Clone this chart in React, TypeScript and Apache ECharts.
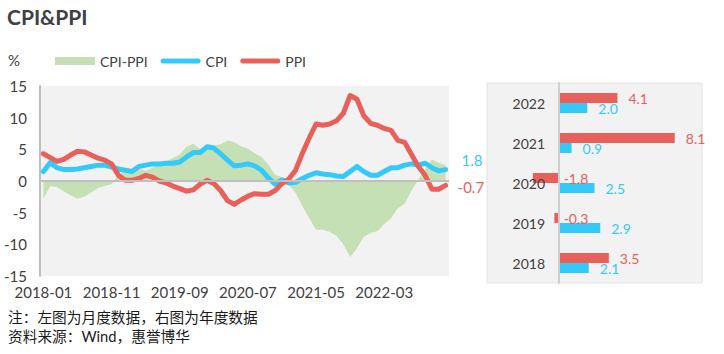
import React, { useEffect, useRef } from 'react';
import * as echarts from 'echarts';

const months: string[] = [];
for (let y = 2018; y <= 2022; y++) {
  for (let m = 1; m <= 12; m++) months.push(`${y}-${String(m).padStart(2, '0')}`);
}

const cpi = [
  1.5, 2.9, 2.1, 1.8, 1.8, 1.9, 2.1, 2.3, 2.5, 2.5, 2.2, 1.9,
  1.7, 1.5, 2.3, 2.5, 2.7, 2.7, 2.8, 2.8, 3.0, 3.8, 4.5, 4.5,
  5.4, 5.2, 4.3, 3.3, 2.4, 2.5, 2.7, 2.4, 1.7, 0.5, -0.5, 0.2,
  -0.3, -0.2, 0.4, 0.9, 1.3, 1.1, 1.0, 0.8, 0.7, 1.5, 2.3, 1.5,
  0.9, 0.9, 1.5, 2.1, 2.1, 2.5, 2.7, 2.5, 2.8, 2.1, 1.6, 1.8,
];

const ppi = [
  4.3, 3.7, 3.1, 3.4, 4.1, 4.7, 4.6, 4.1, 3.6, 3.3, 2.7, 0.9,
  0.1, 0.1, 0.4, 0.9, 0.6, 0.0, -0.3, -0.8, -1.2, -1.6, -1.4, -0.5,
  0.1, -0.4, -1.5, -3.1, -3.7, -3.0, -2.4, -2.0, -2.1, -2.1, -1.5, -0.4,
  0.3, 1.7, 4.4, 6.8, 9.0, 8.8, 9.0, 9.5, 10.7, 13.5, 12.9, 10.3,
  9.1, 8.8, 8.3, 8.0, 6.4, 6.1, 4.2, 2.3, 0.9, -1.3, -1.3, -0.7,
];

const cpiPpi = [
  -2.8, -0.8, -1.0, -1.6, -2.3, -2.8, -2.5, -1.8, -1.1, -0.8, -0.5, 1.0,
  1.6, 1.4, 1.9, 1.6, 2.1, 2.7, 3.1, 3.6, 4.2, 5.4, 5.9, 5.0,
  5.3, 5.6, 5.8, 6.4, 6.1, 5.5, 5.1, 4.4, 3.8, 2.6, 1.0, 0.6,
  -0.6, -1.9, -4.0, -5.9, -7.7, -7.7, -8.0, -8.7, -10.0, -12.0, -10.6, -8.8,
  -8.2, -7.9, -6.8, -5.9, -4.3, -3.6, -1.5, 0.2, 1.9, 3.4, 2.9, 2.5,
];

const years = ['2018', '2019', '2020', '2021', '2022'];
const cpiYear = [2.1, 2.9, 2.5, 0.9, 2.0];
const ppiYear = [3.5, -0.3, -1.8, 8.1, 4.1];

const BLUE = '#35c9f9';
const RED = '#e8605a';
const GREEN = '#c5e0b4';
const TEXT = '#404040';
const FONT = 'Lato, "Noto Sans CJK SC", sans-serif';
const LINE_ICON = 'path://M2.5,0 H37.5 A2.5,2.5 0 0 1 37.5,5 H2.5 A2.5,2.5 0 0 1 2.5,0 Z';

export default function App() {
  const ref = useRef<HTMLDivElement>(null);
  useEffect(() => {
    if (!ref.current) return;
    const chart = echarts.init(ref.current, null, { renderer: 'svg' });
    const barData = (arr: number[]) =>
      arr.map((v) => (v < 0 ? { value: v, label: { distance: 5 } } : v));
    chart.setOption({
      animation: false,
      textStyle: { fontFamily: FONT },
      title: {
        text: 'CPI&PPI',
        left: 2,
        top: 1,
        textStyle: { fontSize: 21, fontWeight: 'bold', color: TEXT, fontFamily: FONT },
      },
      legend: {
        left: 50,
        top: 49,
        itemWidth: 40,
        itemHeight: 8,
        itemGap: 13,
        textStyle: { fontSize: 14, color: TEXT, fontFamily: FONT },
        data: [
          { name: 'CPI-PPI', icon: 'rect' },
          { name: 'CPI', icon: LINE_ICON },
          { name: 'PPI', icon: LINE_ICON },
        ],
      },
      grid: [
        { left: 40, top: 86, width: 409, height: 190, show: true, backgroundColor: '#f2f2f2', borderWidth: 0 },
        { left: 487, top: 83, width: 215, height: 200, show: true, backgroundColor: '#f2f2f2', borderColor: '#e4e4e4', borderWidth: 1 },
      ],
      xAxis: [
        {
          type: 'category',
          gridIndex: 0,
          data: months,
          boundaryGap: true,
          axisLine: { show: false },
          axisTick: { show: false },
          axisLabel: { interval: 9, fontSize: 15, color: TEXT, margin: 8, fontFamily: FONT },
        },
        { type: 'value', gridIndex: 1, min: -5, max: 10, show: false, splitLine: { show: false } },
      ],
      yAxis: [
        {
          type: 'value',
          gridIndex: 0,
          min: -15,
          max: 15,
          interval: 5,
          axisLine: { show: true, onZero: false, lineStyle: { color: '#bfbfbf', width: 2 } },
          axisTick: { show: false },
          splitLine: { show: false },
          axisLabel: { fontSize: 15, color: TEXT, margin: 13, fontFamily: FONT },
        },
        {
          type: 'category',
          gridIndex: 1,
          data: years,
          z: 5,
          axisLine: { show: true, onZero: true, lineStyle: { color: '#cfcfcf', width: 2 } },
          axisTick: { show: false },
          axisLabel: { fontSize: 14, color: TEXT, margin: -58, fontFamily: FONT },
        },
      ],
      graphic: [
        { type: 'text', left: 8, top: 52, style: { text: '%', fontSize: 15, fill: TEXT, fontFamily: FONT } },
        { type: 'text', left: 8, top: 310, style: { text: '注：左图为月度数据，右图为年度数据', fontSize: 14.7, fill: '#1a1a1a', fontFamily: FONT } },
        { type: 'text', left: 8, top: 329, style: { text: '资料来源：Wind，惠誉博华', fontSize: 14.7, fill: '#1a1a1a', fontFamily: FONT } },
      ],
      series: [
        {
          name: 'CPI-PPI',
          type: 'line',
          xAxisIndex: 0,
          yAxisIndex: 0,
          data: cpiPpi,
          symbol: 'none',
          lineStyle: { width: 0 },
          itemStyle: { color: GREEN },
          areaStyle: { color: GREEN, opacity: 1 },
          z: 1,
          markLine: {
            silent: true,
            symbol: 'none',
            label: { show: false },
            lineStyle: { color: '#bfbfbf', width: 2, type: 'solid' },
            data: [{ yAxis: 0 }],
          },
        },
        {
          name: 'CPI',
          type: 'line',
          xAxisIndex: 0,
          yAxisIndex: 0,
          data: cpi,
          symbol: 'none',
          itemStyle: { color: BLUE },
          lineStyle: { color: BLUE, width: 5, cap: 'round', join: 'round' },
          z: 3,
          endLabel: {
            show: true,
            formatter: (p: any) => String(p.value),
            color: BLUE,
            fontSize: 15,
            fontFamily: FONT,
            offset: [8, -10],
          },
        },
        {
          name: 'PPI',
          type: 'line',
          xAxisIndex: 0,
          yAxisIndex: 0,
          data: ppi,
          symbol: 'none',
          itemStyle: { color: RED },
          lineStyle: { color: RED, width: 5, cap: 'round', join: 'round' },
          z: 4,
          endLabel: {
            show: true,
            formatter: (p: any) => String(p.value),
            color: RED,
            fontSize: 15,
            fontFamily: FONT,
            offset: [4, 2],
          },
        },
        {
          name: 'PPI年度',
          type: 'bar',
          xAxisIndex: 1,
          yAxisIndex: 1,
          data: barData(ppiYear),
          barWidth: 10,
          barGap: '0%',
          itemStyle: { color: RED },
          label: {
            show: true,
            position: 'right',
            distance: 11,
            color: RED,
            fontSize: 14,
            fontFamily: FONT,
            formatter: (p: any) => Number(p.value).toFixed(1),
          },
        },
        {
          name: 'CPI年度',
          type: 'bar',
          xAxisIndex: 1,
          yAxisIndex: 1,
          data: barData(cpiYear),
          barWidth: 10,
          barGap: '0%',
          itemStyle: { color: BLUE },
          label: {
            show: true,
            position: 'right',
            distance: 11,
            color: BLUE,
            fontSize: 14,
            fontFamily: FONT,
            formatter: (p: any) => Number(p.value).toFixed(1),
          },
        },
      ],
    });
    return () => chart.dispose();
  }, []);
  return <div ref={ref} style={{ position: 'absolute', left: 0, top: 0, width: 724, height: 354 }} />;
}
